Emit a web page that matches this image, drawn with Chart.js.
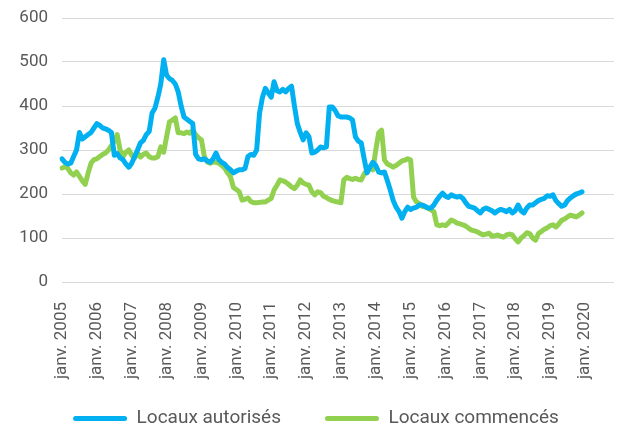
<!DOCTYPE html>
<html>
<head>
<meta charset="utf-8">
<script src="https://cdn.jsdelivr.net/npm/chart.js@4.4.1/dist/chart.umd.min.js"></script>
<style>
  html, body { margin: 0; padding: 0; background: #fff; }
  #wrap { width: 619px; height: 429px; }
</style>
</head>
<body>
<div id="wrap"><canvas id="graphCanvas"></canvas></div>
<script>
// monthly series, janv. 2005 -> déc. 2019
var autorises = [
  280, 272, 268, 270, 285, 300, 340, 325, 330, 335, 340, 350,
  360, 356, 350, 348, 345, 340, 288, 292, 282, 278, 268, 261,
  270, 285, 300, 316, 322, 335, 342, 384, 395, 420, 450, 505,
  470, 462, 458, 450, 432, 400, 375, 370, 365, 360, 290, 280,
  278, 280, 275, 272, 280, 293, 278, 272, 268, 260, 255, 248,
  252, 255, 255, 258, 285, 290, 288, 300, 384, 420, 440, 430,
  420, 455, 435, 432, 438, 432, 440, 445, 400, 360, 340, 323,
  339, 330, 293, 295, 300, 307, 305, 307, 398, 398, 390, 378,
  375, 375, 375, 373, 368, 330, 320, 316, 280, 248, 261, 272,
  265, 250, 248, 250, 230, 209, 185, 170, 160, 145, 160, 170,
  165, 168, 170, 175, 175, 172, 168, 168, 175, 186, 195, 202,
  195, 192, 198, 195, 193, 195, 190, 180, 172, 170, 168, 162,
  157, 165, 168, 165, 162, 157, 162, 165, 163, 160, 165, 157,
  162, 175, 162, 157, 168, 175, 175, 180, 185, 188, 190, 196,
  195, 198, 185, 178, 172, 175, 185, 191, 196, 200, 202, 205
];
var commences = [
  259, 262, 258, 248, 243, 250, 240, 230, 222, 248, 270, 278,
  280, 285, 290, 293, 300, 310, 320, 335, 300, 285, 295, 300,
  288, 282, 293, 284, 290, 293, 285, 282, 282, 285, 307, 295,
  330, 364, 368, 373, 339, 339, 337, 341, 338, 345, 335, 328,
  323, 285, 273, 270, 273, 272, 270, 265, 259, 248, 239, 215,
  210, 205, 186, 188, 191, 183, 180, 180, 181, 182, 182, 186,
  190, 209, 220, 232, 230, 227, 222, 216, 212, 220, 232, 225,
  222, 220, 205, 198, 205, 203, 195, 192, 188, 185, 183, 182,
  180, 232, 238, 235, 233, 236, 233, 232, 245, 255, 261, 255,
  300, 339, 345, 277, 268, 265, 261, 265, 270, 275, 277, 280,
  277, 193, 182, 178, 172, 170, 168, 164, 160, 130, 128, 130,
  128, 134, 141, 138, 134, 132, 130, 127, 122, 118, 116, 114,
  110, 107, 109, 111, 104, 105, 107, 104, 102, 107, 109, 107,
  98, 91, 100, 105, 112, 110, 100, 95, 110, 115, 120, 123,
  128, 130, 125, 132, 140, 143, 148, 152, 150, 148, 152, 157
];
var mois = ['janv.', 'févr.', 'mars', 'avr.', 'mai', 'juin', 'juil.', 'août', 'sept.', 'oct.', 'nov.', 'déc.'];
var firstYear = 2005;
var nbMois = 191; // axe prolongé jusqu'à nov. 2020
var yTicks = [0, 100, 200, 300, 400, 500, 600];

var labels = [];
for (var i = 0; i < nbMois; i++) {
  labels.push(mois[i % 12] + ' ' + (firstYear + Math.floor(i / 12)));
}

var grey = '#595959';
Chart.defaults.font.family = 'Roboto, "Liberation Sans", sans-serif';
Chart.defaults.color = grey;

var chartdata = {
  labels: labels,
  datasets: [
    {
      label: 'Locaux autorisés',
      data: autorises,
      borderColor: '#00B0F0',
      backgroundColor: '#00B0F0',
      borderWidth: 5,
      pointRadius: 0,
      tension: 0,
      borderCapStyle: 'round',
      borderJoinStyle: 'round'
    },
    {
      label: 'Locaux commencés',
      data: commences,
      borderColor: '#92D050',
      backgroundColor: '#92D050',
      borderWidth: 5,
      pointRadius: 0,
      tension: 0,
      borderCapStyle: 'round',
      borderJoinStyle: 'round'
    }
  ]
};

var graph = new Chart(document.getElementById('graphCanvas'), {
  type: 'line',
  data: chartdata,
  options: {
    responsive: true,
    maintainAspectRatio: false,
    animation: false,
    layout: { padding: { left: 0, right: 5, top: 18, bottom: 0 } },
    plugins: {
      tooltip: { enabled: false },
      legend: {
        position: 'bottom',
        labels: {
          boxWidth: 54,
          boxHeight: 5,
          padding: 44,
          useBorderRadius: true,
          borderRadius: 2.5,
          font: { size: 19 },
          color: grey,
          generateLabels: function (chart) {
            return chart.data.datasets.map(function (ds, k) {
              return {
                text: ds.label,
                fillStyle: ds.borderColor,
                strokeStyle: ds.borderColor,
                lineWidth: 0,
                fontColor: grey,
                datasetIndex: k,
                borderRadius: 2.5
              };
            });
          }
        }
      }
    },
    scales: {
      x: {
        offset: false,
        grid: { display: false },
        border: { display: false },
        afterFit: function (scale) {
          scale.height = 83;
          scale.paddingLeft = 0;
          scale.paddingRight = 0;
          // let the rotated labels run past the axis box
          scale._computeLabelArea = function () { return undefined; };
        },
        ticks: {
          autoSkip: false,
          minRotation: 90,
          maxRotation: 90,
          padding: 12,
          font: { size: 17 },
          color: grey,
          callback: function (v, idx) {
            return idx % 12 === 0 ? this.getLabelForValue(v) : '';
          }
        }
      },
      y: {
        min: 0,
        max: 600,
        afterBuildTicks: function (axis) {
          axis.ticks = yTicks.map(function (t) { return { value: t }; });
        },
        afterFit: function (scale) {
          scale.width = 62;
          scale.paddingTop = 0;
          scale.paddingBottom = 0;
        },
        grid: { color: '#D9D9D9', lineWidth: 1, drawTicks: false },
        border: { display: false },
        ticks: { padding: 14, font: { size: 17 }, color: grey }
      }
    }
  },
  plugins: [{
    id: 'legendSize',
    beforeInit: function (chart) {
      var fit = chart.legend.fit;
      chart.legend.fit = function () {
        fit.bind(chart.legend)();
        this.height = 64;
        if (this.lineWidths && this.lineWidths.length) {
          this.lineWidths[0] -= 18;
        }
      };
    }
  }]
});
</script>
</body>
</html>
